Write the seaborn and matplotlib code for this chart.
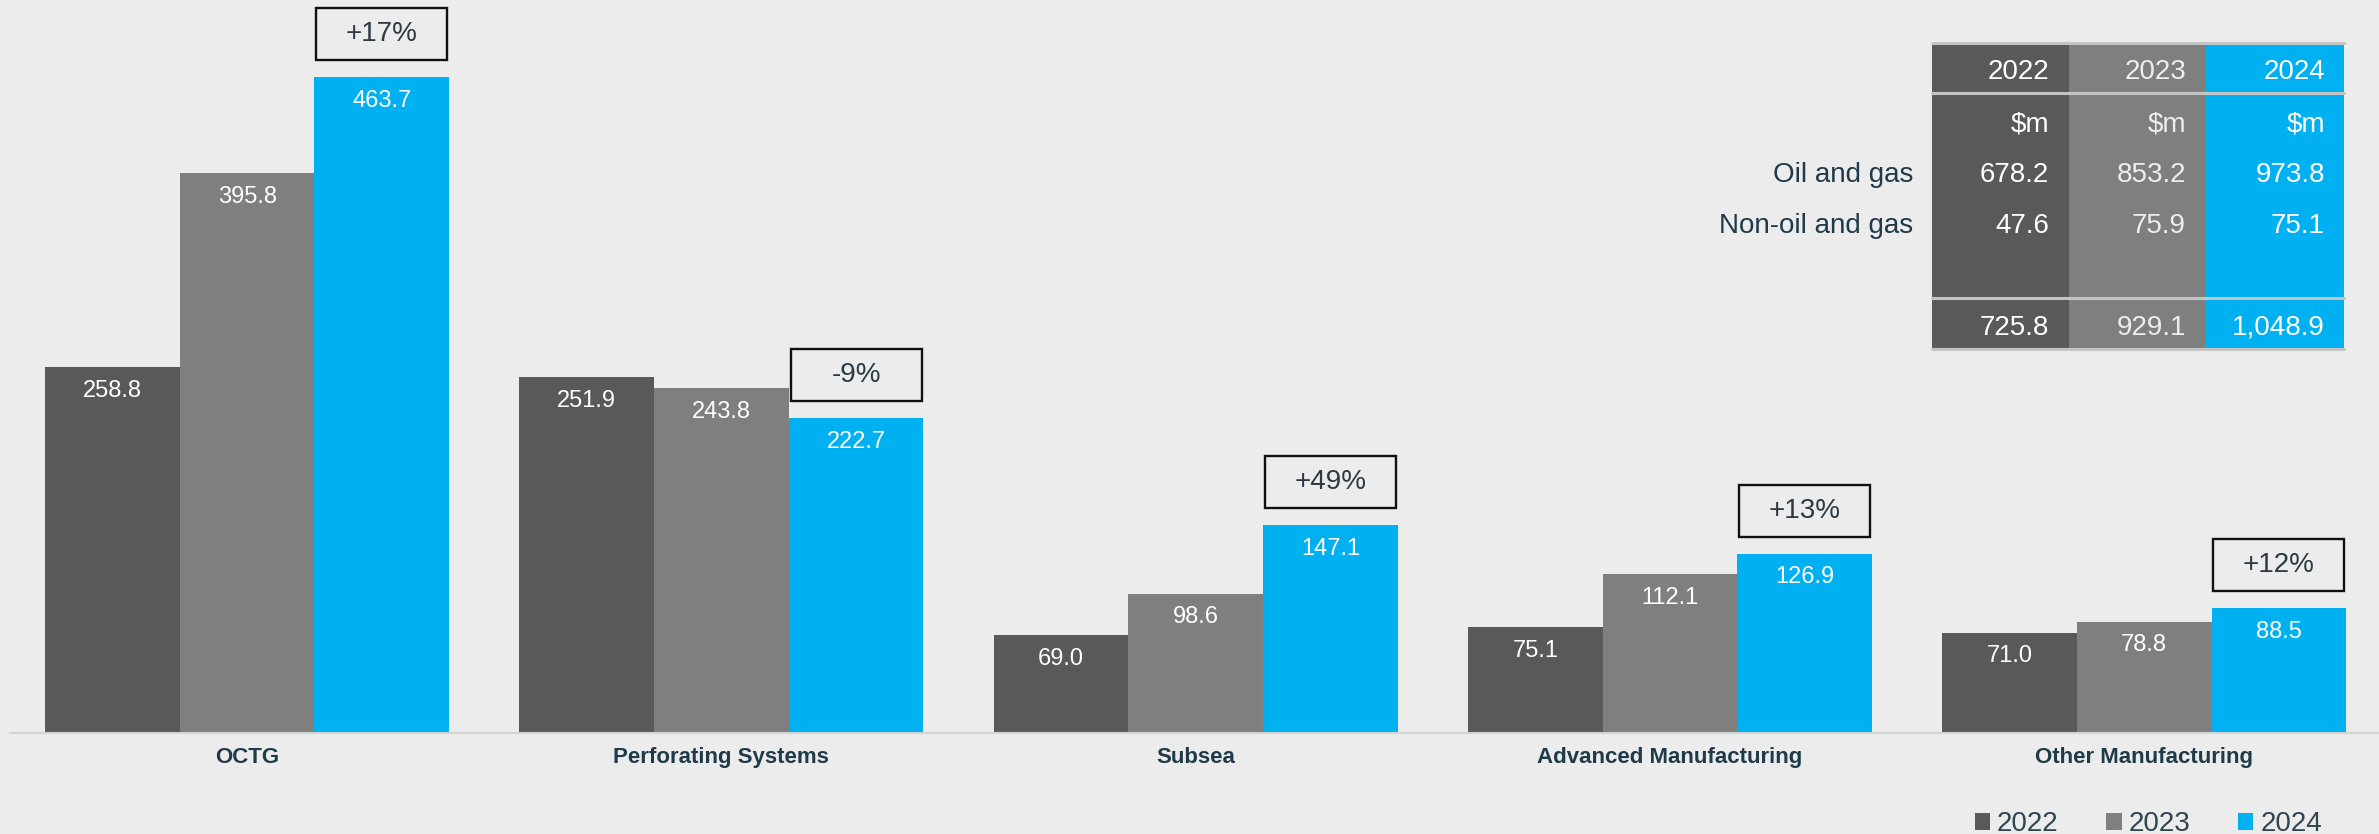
import numpy as np
import pandas as pd
import matplotlib
matplotlib.use("Agg")
import matplotlib.pyplot as plt
from matplotlib.patches import Rectangle
import seaborn as sns

# ---- data -------------------------------------------------------------
segments = ["OCTG", "Perforating Systems", "Subsea",
            "Advanced Manufacturing", "Other Manufacturing"]
years = ["2022", "2023", "2024"]
rev_2022 = [258.8, 251.9, 69.0, 75.1, 71.0]
rev_2023 = [395.8, 243.8, 98.6, 112.1, 78.8]
rev_2024 = [463.7, 222.7, 147.1, 126.9, 88.5]

table_rows = ["Oil and gas", "Non-oil and gas"]
oil_gas = ["678.2", "853.2", "973.8"]
non_oil_gas = ["47.6", "75.9", "75.1"]
totals = ["725.8", "929.1", "1,048.9"]
unit = "$m"

# ---- style ------------------------------------------------------------
BG = "#ececec"
COLORS = ["#595959", "#7f7f7f", "#00b0f0"]
TEXT_DARK = "#1f3a48"

sns.set_style("white", {"axes.facecolor": BG, "figure.facecolor": BG})
plt.rcParams["font.family"] = ["Liberation Sans", "DejaVu Sans"]

W, H, DPI = 2379, 834, 100
fig = plt.figure(figsize=(W / DPI, H / DPI), dpi=DPI, facecolor=BG)
base_px = 733
ax = fig.add_axes([10 / W, (H - base_px) / H, 1 - 10 / W, base_px / H])

df = pd.DataFrame({
    "segment": np.repeat(segments, 3),
    "year": years * len(segments),
    "revenue": [v for trio in zip(rev_2022, rev_2023, rev_2024) for v in trio],
})

sns.barplot(data=df, x="segment", y="revenue", hue="year",
            order=segments, hue_order=years, palette=COLORS,
            width=0.852, saturation=1, linewidth=0, ax=ax, legend=True)

ax.set_xlim(-0.5, 4.495)
ax.set_ylim(0, 518.4)
ax.set_xlabel("")
ax.set_ylabel("")
ax.set_yticks([])
ax.tick_params(axis="x", length=0, pad=10)
for lbl in ax.get_xticklabels():
    lbl.set_fontweight("bold")
    lbl.set_fontsize(16)
    lbl.set_color(TEXT_DARK)
for side in ["top", "right", "left"]:
    ax.spines[side].set_visible(False)
ax.spines["bottom"].set_color("#d4d4d4")
ax.spines["bottom"].set_linewidth(1.5)

# value labels just inside the top of each bar
for cont, vals in zip(ax.containers, [rev_2022, rev_2023, rev_2024]):
    ax.bar_label(cont, labels=[f"{v:.1f}" for v in vals], padding=-25,
                 color="white", fontsize=17)

# year-on-year change boxes above the 2024 bars
units_per_px = (518.4 - 0) / base_px
gap = 17 * units_per_px
box_h = 52 * units_per_px
for bar, v23, v24 in zip(ax.containers[2].patches, rev_2023, rev_2024):
    pct = round((v24 / v23 - 1) * 100)
    label = f"+{pct}%" if pct > 0 else f"{pct}%"
    x0 = bar.get_x() + 0.004
    w = bar.get_width() - 0.008
    y0 = bar.get_height() + gap
    ax.add_patch(Rectangle((x0, y0), w, box_h, facecolor="none",
                           edgecolor="#111111", linewidth=1.7, clip_on=False))
    ax.text(x0 + w / 2, y0 + box_h / 2, label, ha="center", va="center",
            fontsize=20, color="#2b3a44")

# legend bottom right
handles, labels = ax.get_legend_handles_labels()
ax.legend(handles, labels, ncol=3, frameon=False, loc="center right",
          bbox_to_anchor=(2322 / W, 10 / H), bbox_transform=fig.transFigure,
          fontsize=20, handlelength=0.55, handleheight=0.55,
          handletextpad=0.25, columnspacing=1.72, borderpad=0,
          borderaxespad=0, labelcolor="#2f4550")

# ---- revenue split table (top right) -----------------------------------
def fx(px):
    return px / W


def fy(py):
    return 1 - py / H


col_edges = [1932, 2069, 2205, 2344]
top, head_sep, tot_sep, bottom = 43, 93, 298, 349
col_text = ["white", "#ededed", "white"]
for i, c in enumerate(COLORS):
    fig.add_artist(Rectangle((fx(col_edges[i]), fy(bottom)),
                             fx(col_edges[i + 1] - col_edges[i]),
                             (bottom - top) / H, transform=fig.transFigure,
                             facecolor=c, edgecolor="none"))
for ly in [top, head_sep, tot_sep, bottom]:
    fig.add_artist(plt.Line2D([fx(col_edges[0]), fx(col_edges[-1])],
                              [fy(ly), fy(ly)], transform=fig.transFigure,
                              color="#c4c4c4", linewidth=2.2))

right_x = [2049, 2186, 2325]
row_y = {"head": 72, "unit": 125, "oil": 175, "non": 226, "tot": 328}
for i in range(3):
    kw = dict(ha="right", va="center", fontsize=20, color=col_text[i],
              transform=fig.transFigure)
    fig.text(fx(right_x[i]), fy(row_y["head"]), years[i], **kw)
    fig.text(fx(right_x[i]), fy(row_y["unit"]), unit, **kw)
    fig.text(fx(right_x[i]), fy(row_y["oil"]), oil_gas[i], **kw)
    fig.text(fx(right_x[i]), fy(row_y["non"]), non_oil_gas[i], **kw)
    fig.text(fx(right_x[i]), fy(row_y["tot"]), totals[i], **kw)
for name, key in zip(table_rows, ["oil", "non"]):
    fig.text(fx(1913), fy(row_y[key]), name, ha="right", va="center",
             fontsize=20, color=TEXT_DARK)

fig.savefig("out.png", dpi=DPI, facecolor=BG)
